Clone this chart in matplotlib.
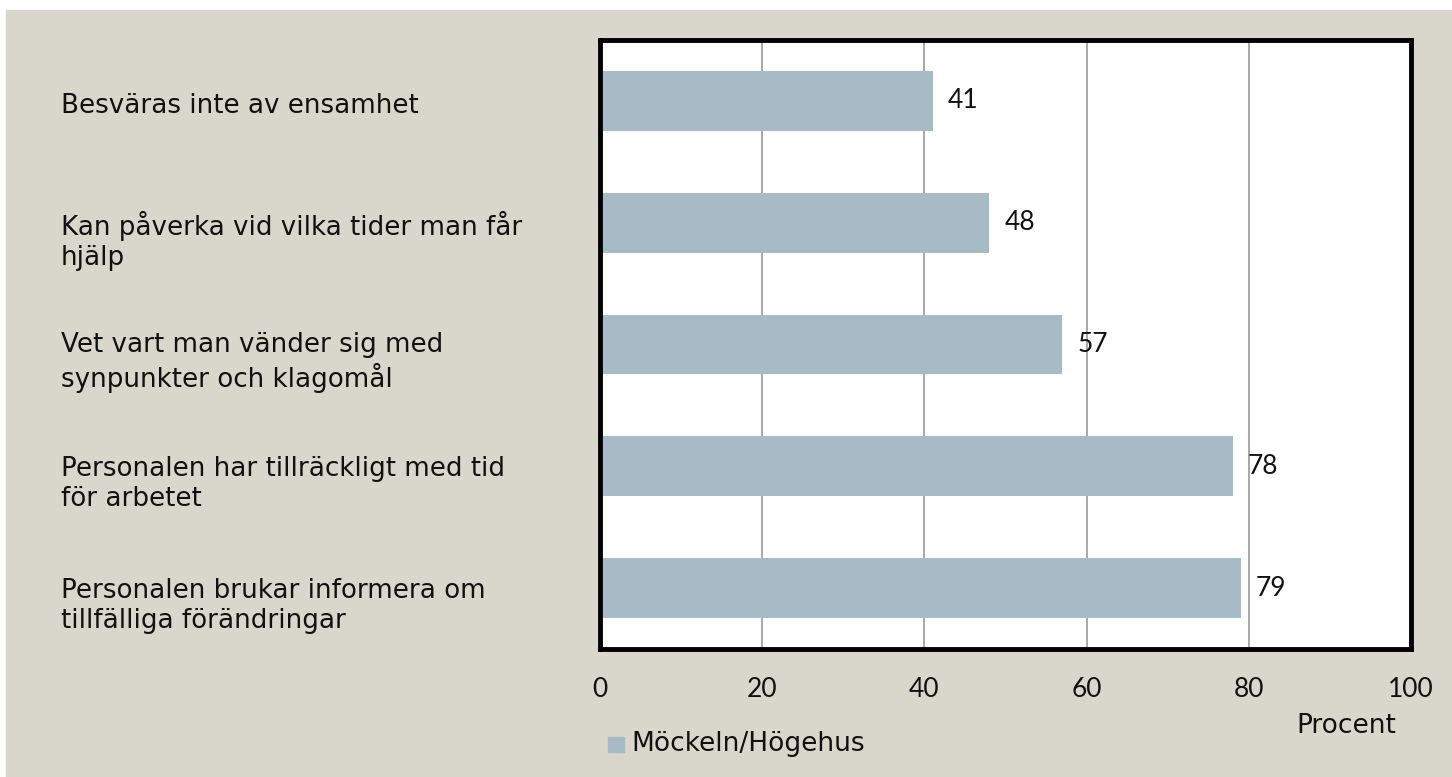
import matplotlib.pyplot as plt
from matplotlib.patches import Rectangle

# Data
categories = [
    "Besväras inte av ensamhet",
    "Kan påverka vid vilka tider man får\nhjälp",
    "Vet vart man vänder sig med\nsynpunkter och klagomål",
    "Personalen har tillräckligt med tid\nför arbetet",
    "Personalen brukar informera om\ntillfälliga förändringar",
]
values = [41, 48, 57, 78, 79]
series_name = "Möckeln/Högehus"
axis_label = "Procent"
xticks = [0, 20, 40, 60, 80, 100]

bar_color = "#A7BBC6"
bg_color = "#D9D7CB"
W, H = 1452, 777

plt.rcParams["font.family"] = ["Lato", "DejaVu Sans"]
wide = ["DejaVu Sans"]

fig = plt.figure(figsize=(W / 100, H / 100), dpi=100)
fig.patch.set_facecolor("white")
fig.patches.append(Rectangle((6 / W, 0), 1 - 6 / W, 1 - 10 / H,
                             transform=fig.transFigure, color=bg_color, zorder=-10))

ax = fig.add_axes([600 / W, 1 - 649 / H, 811 / W, 609 / H])
ax.set_facecolor("white")

y = list(range(len(categories)))
ax.barh(y, values, height=0.49, color=bar_color, zorder=2)
ax.set_ylim(len(categories) - 0.5, -0.5)
ax.set_xlim(0, 100)

ax.set_xticks(xticks)
ax.set_xticklabels([str(t) for t in xticks], fontsize=19, color="#111111")
ax.tick_params(axis="x", length=0, pad=20)
ax.set_yticks([])
ax.grid(axis="x", color="#999999", linewidth=1.2, zorder=1)

for s in ax.spines.values():
    s.set_linewidth(3.5)
    s.set_color("black")

for i, v in enumerate(values):
    ax.text(v + 1.9, i, str(v), va="center", ha="left", fontsize=19, color="#111111")

# category labels, left aligned in figure coordinates
for i, c in enumerate(categories):
    off = 18 if "\n" in c else 5
    yc = (ax.transData.transform((0, i))[1] - off) / H
    fig.text(61 / W, yc, c, ha="left", va="center", fontsize=18.8,
             family=wide, linespacing=1.22, color="#111111")

fig.text(1346 / W, 1 - 726 / H, axis_label, ha="center", va="center",
         fontsize=19, family=wide, color="#111111")

fig.patches.append(Rectangle((608 / W, 1 - 752 / H), 16 / W, 15 / H,
                             transform=fig.transFigure, color=bar_color))
fig.text(631 / W, 1 - 744 / H, series_name, ha="left", va="center",
         fontsize=19, family=wide, color="#111111")

fig.savefig("out.png", dpi=100, facecolor=fig.get_facecolor())
